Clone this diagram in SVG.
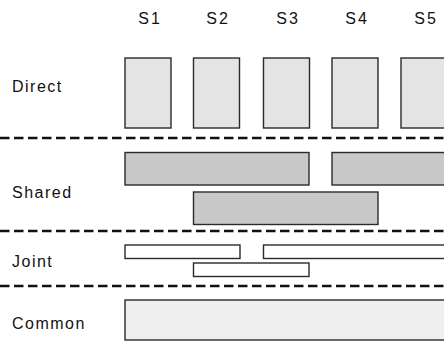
<svg xmlns="http://www.w3.org/2000/svg" width="444" height="341" viewBox="0 0 444 341">
<style>
text{font-family:"Liberation Sans",Arial,sans-serif;font-size:16px;fill:#111;letter-spacing:1.5px}
.hd{text-anchor:middle;font-size:16px;letter-spacing:2px}
.box{stroke:#2a2a2a;stroke-width:1.4}
.direct{fill:#e4e4e4}
.shared{fill:#c8c8c8}
.joint{fill:#ffffff}
.common{fill:#efefef}
.sep{stroke:#111;stroke-width:2.5;stroke-dasharray:9.5 4.5;fill:none}
</style>
<rect width="444" height="341" fill="#fff"/>
<g id="headers">
<text class="hd" x="150" y="24">S1</text>
<text class="hd" x="218" y="24">S2</text>
<text class="hd" x="288" y="24">S3</text>
<text class="hd" x="357" y="24">S4</text>
<text class="hd" x="426" y="24">S5</text>
</g>
<g id="row-labels">
<text x="12" y="92">Direct</text>
<text x="12" y="198">Shared</text>
<text x="12" y="267">Joint</text>
<text x="12" y="329">Common</text>
</g>
<g id="separators">
<line class="sep" x1="0" y1="138" x2="444" y2="138"/>
<line class="sep" x1="0" y1="231" x2="444" y2="231"/>
<line class="sep" x1="0" y1="286" x2="444" y2="286"/>
</g>
<g id="direct-s1"><rect class="box direct" x="125" y="58" width="46" height="70"/></g>
<g id="direct-s2"><rect class="box direct" x="193.5" y="58" width="46" height="70"/></g>
<g id="direct-s3"><rect class="box direct" x="263.5" y="58" width="46" height="70"/></g>
<g id="direct-s4"><rect class="box direct" x="332" y="58" width="46" height="70"/></g>
<g id="direct-s5"><rect class="box direct" x="401" y="58" width="60" height="70"/></g>
<g id="shared-s1-s3"><rect class="box shared" x="125" y="152.5" width="184" height="32.5"/></g>
<g id="shared-s4-s5"><rect class="box shared" x="332" y="152.5" width="130" height="32.5"/></g>
<g id="shared-s2-s4"><rect class="box shared" x="193.5" y="192" width="184.5" height="32.5"/></g>
<g id="joint-s1-s2"><rect class="box joint" x="125" y="245" width="115" height="13.5"/></g>
<g id="joint-s3-s5"><rect class="box joint" x="263.5" y="245" width="200" height="13.5"/></g>
<g id="joint-s2-s3"><rect class="box joint" x="193.5" y="263" width="115.5" height="13.5"/></g>
<g id="common-all"><rect class="box common" x="125" y="300" width="340" height="40"/></g>
</svg>
